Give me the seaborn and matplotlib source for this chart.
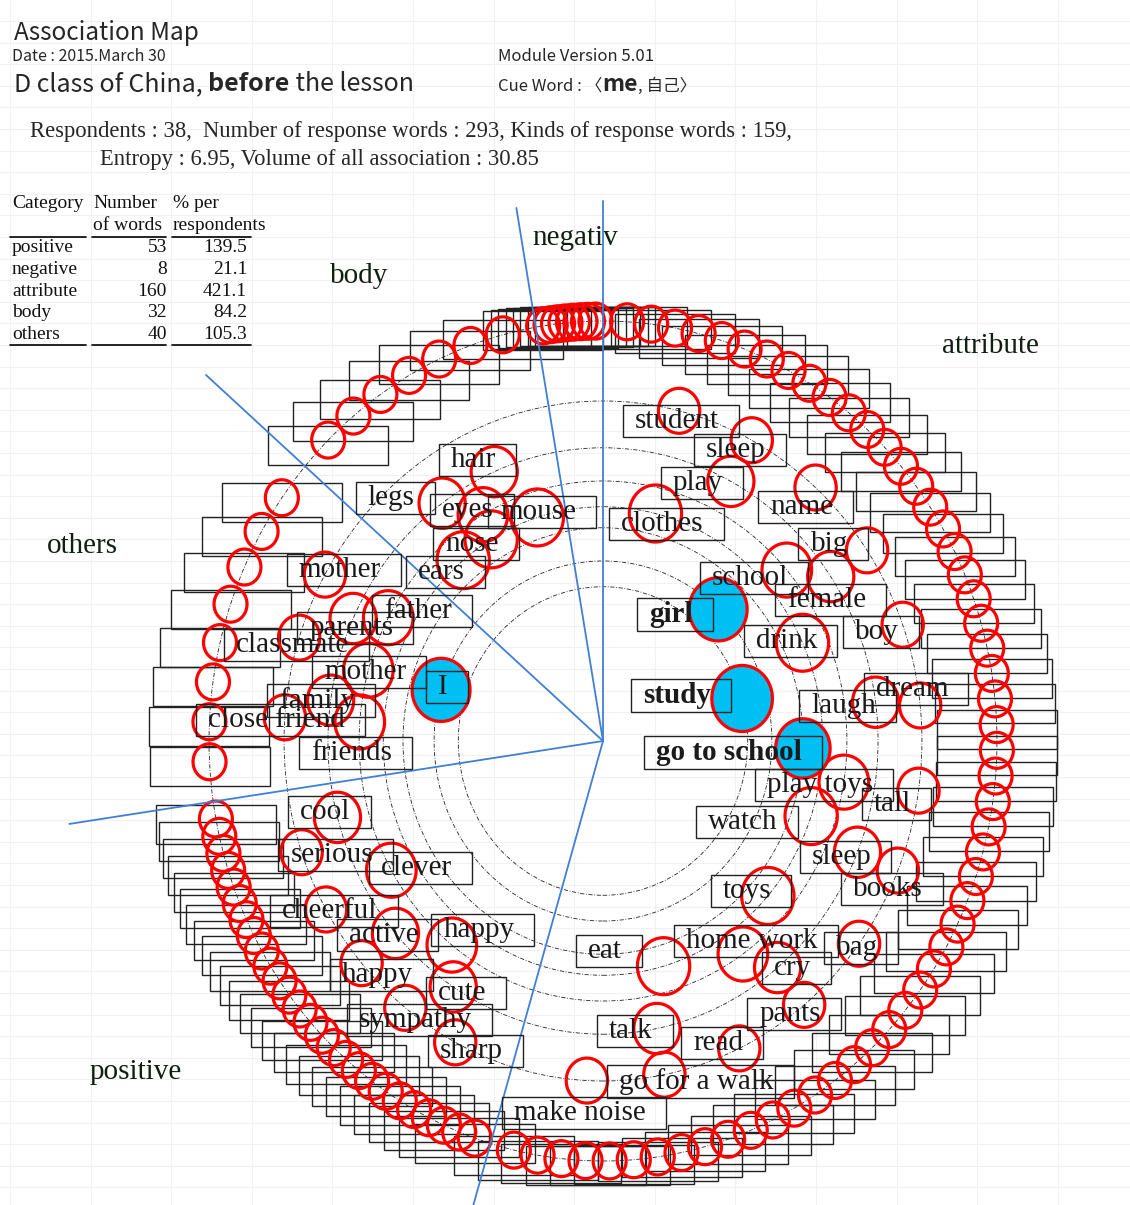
import numpy as np
import pandas as pd
import matplotlib
matplotlib.use("Agg")
import matplotlib.pyplot as plt
from matplotlib.patches import Ellipse, Rectangle
from matplotlib.path import Path
from matplotlib.markers import MarkerStyle
import seaborn as sns

# --- Data ---
CATEGORIES = ["attribute", "positive", "others", "body", "negative"]   # clockwise from top
CATEGORY_COUNTS = [160, 53, 40, 32, 8]
TABLE_ORDER = ["positive", "negative", "attribute", "body", "others"]
RESPONDENTS = 38
KINDS = 159
ENTROPY = 6.95
VOLUME = 30.85

WORDS = ["student", "sleep", "play", "name", "clothes", "big", "school", "female",
         "girl", "boy", "drink", "study", "laugh", "dream", "go to school", "play toys",
         "tall", "watch", "sleep", "books", "toys", "home work", "cry", "bag", "eat",
         "pants", "talk", "read", "go for a walk", "make noise",
         "hair", "legs", "eyes", "mouse", "nose", "ears",
         "mother", "father", "parents", "classmate", "mother", "family",
         "close friend", "friends", "I",
         "cool", "serious", "clever", "cheerful", "active", "happy", "happy",
         "cute", "sympathy", "sharp"]
WORD_CATEGORY = ["attribute"] * 30 + ["body"] * 6 + ["others"] * 9 + ["positive"] * 10
WORD_FREQ = [2, 2, 3, 2, 5, 2, 4, 3, 8, 2, 5, 10, 3, 2, 6, 4, 2, 5, 3, 2,
             5, 4, 3, 2, 5, 2, 3, 2, 2, 2,
             3, 3, 4, 5, 5, 5,
             2, 4, 3, 2, 4, 3, 2, 4, 8,
             3, 2, 4, 2, 3, 4, 2, 3, 2, 2]
WORD_ANGLE = [13.8, 27.8, 27.7, 41.8, 13.8, 55.9, 48.9, 55.9, 43.0, 70.0,
              65.2, 74.0, 82.4, 84.0, 92.0, 99.1, 98.4, 108.7, 112.3, 112.4,
              131.4, 145.0, 140.6, 126.6, 164.0, 140.9, 168.7, 154.7, 168.9, 182.9,
              336.7, 324.2, 330.5, 342.6, 329.4, 320.5,
              299.3, 298.3, 294.7, 287.7, 285.8, 278.0, 274.0, 274.2, 286.5,
              254.9, 250.9, 240.2, 240.3, 229.0, 218.3, 229.2, 213.0, 218.3, 207.6]
# where each label sits relative to its circle (px, right / down)
LABEL_DX = [-2, -16, -33, -14, 7, -38, -37, -4, -47, -26, -16, -65, -32, -8, -74,
            -24, -26, -68, -16, -10, -21, 9, 15, -2, -59, -14, -26, -21, 32, -7,
            -21, -51, -15, 1, -19, -22,
            15, 30, -2, -7, -3, -14, -8, -8, 2,
            -12, 30, 25, 4, -12, 27, 16, 9, 10, 16]
LABEL_DY = [10, 10, 2, 19, 11, -6, 8, 23, 5, 7, -2, -3, 4, -16, 4,
            3, 13, 6, 5, 18, -5, -13, 0, 4, -15, 9, 2, -5, 7, 32,
            -12, -5, -5, -5, 5, 12,
            -5, -7, 10, 7, 2, 0, 3, 31, -3,
            -5, 3, -2, 2, 2, -15, 12, 6, 12, 9]
BOLD_WORDS = ["girl", "study", "go to school"]

CATEGORY_LABEL = {"negative": "negativ", "body": "body", "attribute": "attribute",
                  "others": "others", "positive": "positive"}
CATEGORY_LABEL_POS = {"negative": (575, 238), "body": (359, 276), "attribute": (990, 346),
                      "others": (82, 546), "positive": (136, 1072)}

# --- Layout / style ---
W, H = 1130, 1205
CX, CY = 603, 741          # map centre in image pixels
OUTER_R = 420.0            # ring of words given only once
LOG_STEP = 115.4           # ring spacing per ln(frequency)
X_SQUASH = 0.938           # map is a little taller than wide
RED = "#ff0000"
BLUE = "#00bff3"
LINE_BLUE = "#3f7fd6"
SERIF = ["Liberation Serif", "Noto Sans CJK JP"]
SANS = ["Noto Sans CJK JP", "DejaVu Sans"]


def ring_radius(f):
    return OUTER_R - LOG_STEP * np.log(f)


def polar_xy(angle, radius):
    a = np.deg2rad(angle)
    return X_SQUASH * radius * np.sin(a), radius * np.cos(a)


def circle_size(f):
    # marker area (pt^2) from the drawn height in px
    d = (33 + 12 * np.log(f)) * 1.09
    return (d * 0.72) ** 2


total = sum(CATEGORY_COUNTS)
edges = np.concatenate([[0], np.cumsum(CATEGORY_COUNTS)]) / total * 360.0

words = pd.DataFrame({"word": WORDS, "category": WORD_CATEGORY, "freq": WORD_FREQ,
                      "angle": WORD_ANGLE, "dx": LABEL_DX, "dy": LABEL_DY})
words["r"] = ring_radius(words["freq"])
words["x"], words["y"] = polar_xy(words["angle"], words["r"])

# words given only once sit on the outer ring, spread evenly over their sector
single_rows = []
for i, cat in enumerate(CATEGORIES):
    n = CATEGORY_COUNTS[i] - words.loc[words.category == cat, "freq"].sum()
    start, width = edges[i], edges[i + 1] - edges[i]
    for k in range(n):
        single_rows.append({"category": cat, "freq": 1,
                            "angle": start + width * (k + 1) / (n + 1)})
singles = pd.DataFrame(single_rows)
singles["x"], singles["y"] = polar_xy(singles["angle"], OUTER_R)

# --- Figure ---
sns.set_theme(style="white")
plt.rcParams["font.family"] = SANS

fig = plt.figure(figsize=(W / 100, H / 100), dpi=100)
fig.patch.set_facecolor("white")
ax_bg = fig.add_axes([0, 0, 1, 1])
ax_bg.set_xlim(0, W)
ax_bg.set_ylim(H, 0)
ax_bg.axis("off")

# faint spreadsheet grid behind everything
for gx in np.arange(10, W, 80.6):
    ax_bg.axvline(gx, color="#f1f1f1", lw=0.8, zorder=0)
for gy in np.arange(237 - 21.6 * 11, H, 21.6):
    ax_bg.axhline(gy, color="#f1f1f1", lw=0.8, zorder=0)

ax = fig.add_axes([0, 0, 1, 1])
ax.set_xlim(-CX, W - CX)
ax.set_ylim(-(H - CY), CY)
ax.axis("off")

renderer = fig.canvas.get_renderer()


def write_pieces(x, y, pieces):
    for s, kw in pieces:
        t = ax_bg.text(x, y, s, ha="left", va="baseline", **kw)
        bb = t.get_window_extent(renderer)
        x = ax_bg.transData.inverted().transform((bb.x1, bb.y0))[0]


# --- Header ---
write_pieces(14, 40, [("Association Map", dict(fontsize=17.5, family=SANS))])
write_pieces(12, 61, [("Date : 2015.March 30", dict(fontsize=11.5, family=SANS))])
write_pieces(498, 61, [("Module Version 5.01", dict(fontsize=12, family=SANS))])
write_pieces(14, 91, [("D class of China, ", dict(fontsize=18, family=SANS)),
                      ("before", dict(fontsize=18, family=SANS, weight="bold")),
                      (" the lesson", dict(fontsize=18, family=SANS))])
write_pieces(498, 91, [("Cue Word : \u3008", dict(fontsize=12, family=SANS)),
                       ("me", dict(fontsize=16.5, family=SANS, weight="bold")),
                       (", \u81ea\u5df1\u3009", dict(fontsize=12, family=SANS))])

write_pieces(30, 137, [(f"Respondents : {RESPONDENTS},  Number of response words : {total}, "
                        f"Kinds of response words : {KINDS},", dict(fontsize=16.3, family=SERIF))])
write_pieces(100, 165, [(f"Entropy : {ENTROPY:.2f}, Volume of all association : {VOLUME:.2f}",
                         dict(fontsize=16.3, family=SERIF))])

# --- Category table ---
tkw = dict(fontsize=14, family=SERIF, color="#111111", va="center")
ax_bg.text(12, 203, "Category", ha="left", **tkw)
ax_bg.text(93, 203, "Number", ha="left", **tkw)
ax_bg.text(173, 203, "% per", ha="left", **tkw)
ax_bg.text(93, 226, "of words", ha="left", **tkw)
ax_bg.text(173, 226, "respondents", ha="left", **tkw)
count_of = dict(zip(CATEGORIES, CATEGORY_COUNTS))
for j, cat in enumerate(TABLE_ORDER):
    yy = 248 + j * 21.6
    ax_bg.text(12, yy, cat, ha="left", **tkw)
    ax_bg.text(167, yy, f"{count_of[cat]}", ha="right", **tkw)
    ax_bg.text(247, yy, f"{count_of[cat] / RESPONDENTS * 100:.1f}", ha="right", **tkw)
for yy in (237, 345):
    for xa, xb in ((10, 86), (92, 166), (172, 251)):
        ax_bg.plot([xa, xb], [yy, yy], color="black", lw=1.2, zorder=2)

# --- Map: frequency rings ---
for f in sorted(words["freq"].unique().tolist() + [1]):
    r = ring_radius(f)
    ax.add_patch(Ellipse((0, 0), 2 * X_SQUASH * r, 2 * r, fill=False, color="#222222",
                         lw=0.6, ls=(0, (5, 2, 1, 2)), zorder=1))

# sector boundaries
for a in edges[:-1]:
    vx, vy = polar_xy(a, 1.0)
    norm = np.hypot(vx, vy)
    ax.plot([0, 540 * vx / norm], [0, 540 * vy / norm], color=LINE_BLUE, lw=1.3, zorder=4)

# empty boxes of single words on the outer ring
for _, row in singles.iterrows():
    ax.add_patch(Rectangle((row.x - 60, row.y - 5 - 19.5), 120, 39, fill=False,
                           ec="#222222", lw=1.0, zorder=2))

# circles
t = np.linspace(0, 2 * np.pi, 60)
ell_marker = MarkerStyle(Path(np.column_stack([np.cos(t) / 1.09, np.sin(t)]), closed=True))
hollow = pd.concat([singles[["x", "y", "freq"]], words.loc[words.freq < 6, ["x", "y", "freq"]]])
filled = words.loc[words.freq >= 6]
sns.scatterplot(data=hollow, x="x", y="y", ax=ax, marker=ell_marker,
                s=circle_size(hollow["freq"].to_numpy()), facecolor="none",
                edgecolor=RED, linewidth=2.3, legend=False, zorder=3)
sns.scatterplot(data=filled, x="x", y="y", ax=ax, marker=ell_marker,
                s=circle_size(filled["freq"].to_numpy()), facecolor=BLUE,
                edgecolor=RED, linewidth=2.3, legend=False, zorder=3)
ax.set_xlim(-CX, W - CX)
ax.set_ylim(-(H - CY), CY)
ax.set_xlabel("")
ax.set_ylabel("")

# word labels with boxes
texts = []
for _, row in words.iterrows():
    weight = "bold" if row.word in BOLD_WORDS else "normal"
    tx = ax.text(row.x + row.dx, row.y - row.dy, row.word, ha="center", va="center",
                 fontsize=21, family=SERIF, color="#1a1a1a", weight=weight, zorder=6)
    texts.append(tx)
inv = ax.transData.inverted()
for tx in texts:
    bb = tx.get_window_extent(renderer)
    x0, y0 = inv.transform((bb.x0, bb.y0))
    x1, y1 = inv.transform((bb.x1, bb.y1))
    ax.add_patch(Rectangle((x0 - 12, y0 - 3), (x1 - x0) + 32, (y1 - y0) + 6, fill=False,
                           ec="#222222", lw=1.0, zorder=5))

# category names
for cat in CATEGORIES:
    px, py = CATEGORY_LABEL_POS[cat]
    ax_bg.text(px, py, CATEGORY_LABEL[cat], ha="center", va="center", fontsize=21,
               family=SERIF, color="#102010", zorder=6)

fig.savefig("out.png", dpi=100)
